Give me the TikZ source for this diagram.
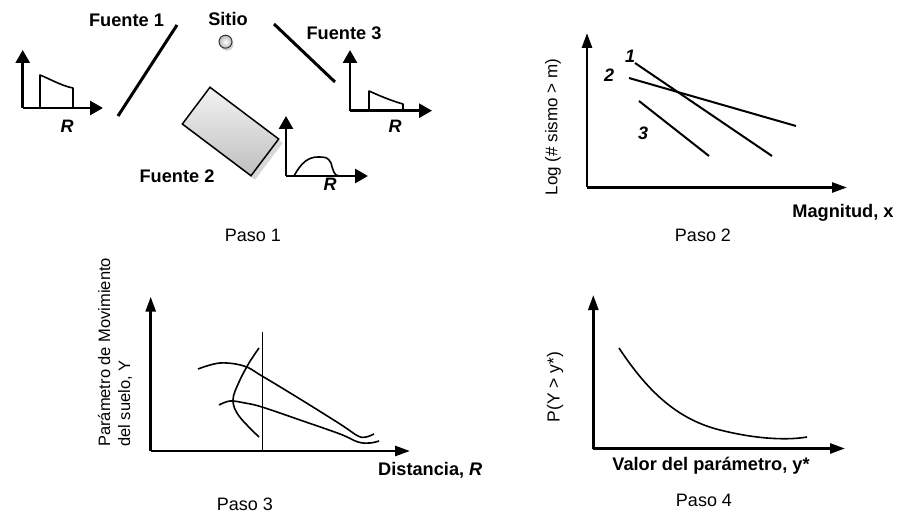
\documentclass[tikz,border=0pt]{standalone}
\usepackage{fontspec}
\setmainfont{Liberation Sans}
\usetikzlibrary{arrows.meta,shadows}
\begin{document}
\begin{tikzpicture}[x=1pt,y=-1pt,
  lbl/.style={inner sep=0pt,anchor=base,font=\fontsize{18}{21}\selectfont},
  blbl/.style={inner sep=0pt,anchor=base,font=\fontsize{18.2}{21}\selectfont\bfseries},
  rlbl/.style={inner sep=0pt,anchor=base,font=\fontsize{18}{21}\selectfont\bfseries\itshape},
  axbig/.style={line width=2.7pt,-{Triangle[length=13pt,width=14pt]}},
  ax/.style={line width=2.7pt,-{Triangle[length=15pt,width=10pt]}},
  srcline/.style={line width=3pt},
  dline/.style={line width=2pt},
  crv/.style={line width=1.6pt,line join=round}]
\useasboundingbox (0,0) rectangle (899,513);

% ---------- Paso 1 ----------
\coordinate (o1) at (22.7,108);
\draw[axbig] (o1) -- (22.7,50);
\draw[axbig] (o1) -- (103,108);
\draw[crv] (40,108) -- (40,75) .. controls (50,79) and (62,86) .. (73,88) -- (73,108);
\node[rlbl] (r1) at (67,132.5) {R};
\draw[srcline] (118,116) -- (177,25);
\node[blbl] (f1) at (126.5,27) {Fuente 1};

\node[blbl] (sitio) at (228,26) {Sitio};
\node[circle,minimum size=13pt,inner sep=0pt,draw=gray!40!black,line width=1pt,
      inner color=white,outer color=gray!55,
      drop shadow={shadow xshift=1.5pt,shadow yshift=-2.5pt,fill=gray!70}] (site) at (225.5,41.7) {};

\draw[srcline] (274,24) -- (335,82);
\node[blbl] (f3) at (344,40) {Fuente 3};
\coordinate (o3) at (350,110.7);
\draw[axbig] (o3) -- (350,50);
\draw[axbig] (o3) -- (432,110.7);
\draw[crv] (369,110.7) -- (369,91) .. controls (380,96) and (392,101) .. (403,104) -- (403,110.7);
\node[rlbl] (r3) at (395,133) {R};

\node[rectangle,minimum width=86pt,minimum height=46pt,rotate=-37,draw=black,line width=1.5pt,
      top color=gray!10,bottom color=gray!50,
      drop shadow={shadow xshift=4pt,shadow yshift=-4pt,fill=gray!60}] (area) at (230.5,131.5) {};
\node[blbl] (f2) at (177,183) {Fuente 2};
\coordinate (o2) at (286,176);
\draw[axbig] (o2) -- (286,116);
\draw[axbig] (o2) -- (368,176);
\draw[crv] (294,176) .. controls (301,163) and (308,157) .. (318,157)
  .. controls (325,157) and (328,157) .. (331,163) .. controls (333,170) and (334,176) .. (339,176);
\node[rlbl] (r2) at (330,191) {R};
\node[lbl] (p1) at (253,241) {Paso 1};

% ---------- Paso 2 ----------
\coordinate (o4) at (587,187.5);
\draw[ax] (o4) -- (587,33);
\draw[ax] (o4) -- (847,187.5);
\draw[dline] (635,63) -- (772,156);
\draw[dline] (629,78) -- (796,126);
\draw[dline] (639,101) -- (709,156);
\node[rlbl] (n1) at (630,63) {1};
\node[rlbl] (n2) at (609,82) {2};
\node[rlbl] (n3) at (643,140) {3};
\node[inner sep=0pt,font=\fontsize{17}{20}\selectfont,rotate=90] (ylog) at (553,127) {Log (\# sismo > m)};
\node[blbl] (mag) at (843,217) {Magnitud, x};
\node[lbl] (p2) at (703,241) {Paso 2};

% ---------- Paso 3 ----------
\coordinate (o5) at (150.7,451);
\draw[ax] (o5) -- (150.7,296.7);
\draw[ax] (o5) -- (410,451);
\draw[line width=1.5pt] (262.3,331.7) -- (262.3,451);
\draw[crv] plot[smooth,tension=0.6] coordinates {(198,369) (220,363) (244,366) (262,376) (300,399) (340,424) (358,436) (366,437) (374,434)};
\draw[crv] plot[smooth,tension=0.6] coordinates {(219,405) (230,401) (245,403) (262,407) (300,420) (340,434) (358,442) (370,443) (379,441)};
\draw[crv] plot[smooth,tension=0.6] coordinates {(259,348) (249,363) (239,382) (233,400) (239,416) (259,437)};
\node[inner sep=0pt,font=\fontsize{16.5}{20}\selectfont,rotate=90,align=left,anchor=west] (yparam) at (115,447) {Parámetro de Movimiento\\del suelo, Y};
\node[blbl,anchor=base west] (dist) at (378,475) {Distancia, \textit{R}};
\node[lbl] (p3) at (245,510) {Paso 3};

% ---------- Paso 4 ----------
\coordinate (o6) at (593.3,448.5);
\draw[ax] (o6) -- (593.3,295);
\draw[ax] (o6) -- (845,448.5);
\draw[crv] (619,348) .. controls (650,395) and (680,420) .. (720,430) .. controls (760,440) and (790,440) .. (807,437);
\node[inner sep=0pt,font=\fontsize{17.5}{20}\selectfont,rotate=90] (pY) at (555,387) {P(Y > y*)};
\node[blbl] (valor) at (711,470) {Valor del parámetro, y*};
\node[lbl] (p4) at (704,506) {Paso 4};
\end{tikzpicture}
\end{document}
